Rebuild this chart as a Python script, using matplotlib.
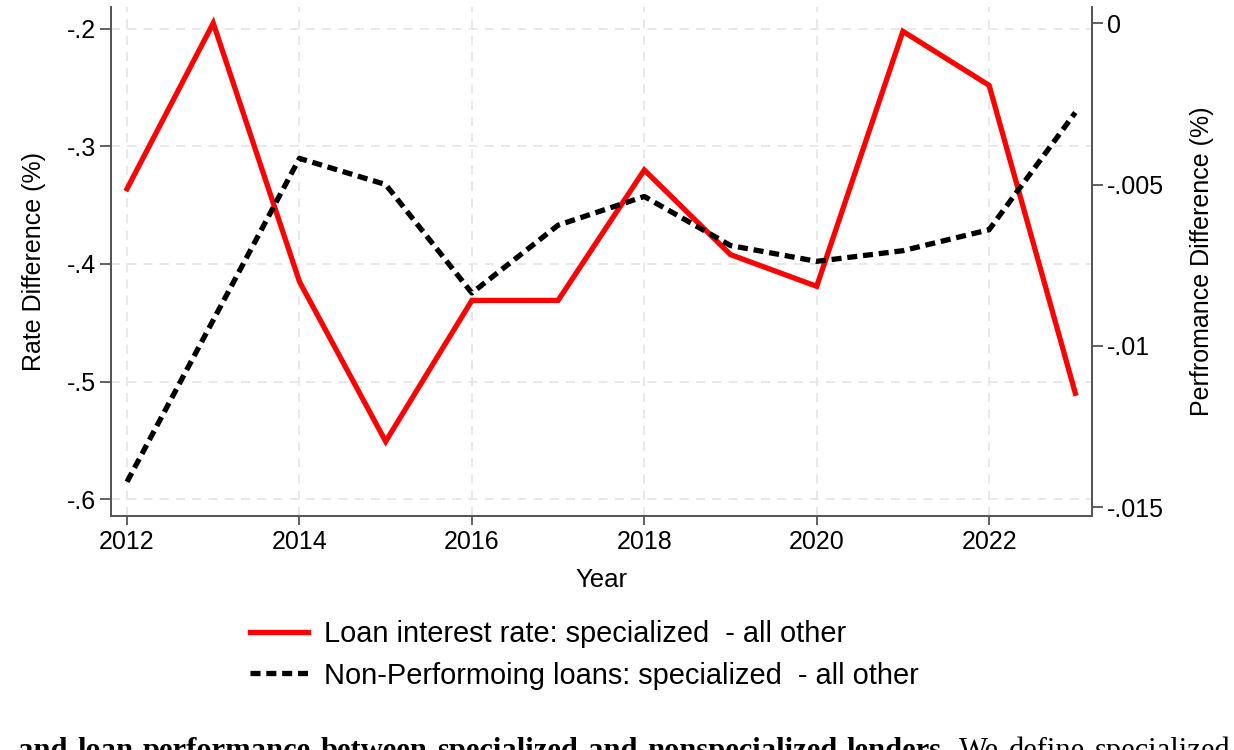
import matplotlib
matplotlib.use("Agg")
import matplotlib.pyplot as plt
from matplotlib import font_manager

# values
years = [2012, 2013, 2014, 2015, 2016, 2017, 2018, 2019, 2020, 2021, 2022, 2023]
rate_diff = [-0.336, -0.195, -0.415, -0.551, -0.431, -0.431, -0.320, -0.392, -0.419, -0.202, -0.248, -0.510]
npl_diff = [-0.01421, -0.0092, -0.00419, -0.00500, -0.00836, -0.00626, -0.00537,
            -0.00689, -0.00738, -0.00705, -0.00640, -0.00277]

x_ticks = [2012, 2014, 2016, 2018, 2020, 2022]
left_ticks = [-0.6, -0.5, -0.4, -0.3, -0.2]
left_labels = ["-.6", "-.5", "-.4", "-.3", "-.2"]
right_ticks = [-0.015, -0.01, -0.005, 0]
right_labels = ["-.015", "-.01", "-.005", "0"]

caption_bold = "and loan performance between specialized and nonspecialized lenders."
caption_rest = "We define specialized"

names = {f.name for f in font_manager.fontManager.ttflist}
sans = "Liberation Sans" if "Liberation Sans" in names else "DejaVu Sans"
serif = "Liberation Serif" if "Liberation Serif" in names else "DejaVu Serif"
plt.rcParams["font.family"] = [sans, "DejaVu Sans"]

W, H = 1234, 750
fig = plt.figure(figsize=(W / 100, H / 100), dpi=100)
ax = fig.add_axes([111 / W, 1 - 515.7 / H, (1091.7 - 111) / W, (515.7 - 7) / H])
ax2 = ax.twinx()

spine_col = "#555555"
grid_col = "#e6e6e6"
fs = 18

ax.set_xlim(2011.814, 2023.19)
ax.set_ylim(-0.6142, -0.1813)
ax2.set_ylim(-0.01526, 0.00050)

ax.set_xticks(x_ticks)
ax.set_yticks(left_ticks)
ax.set_yticklabels(left_labels)
ax2.set_yticks(right_ticks)
ax2.set_yticklabels(right_labels)

ax.grid(True, color=grid_col, linestyle=(0, (5, 4)), linewidth=1.3)
ax.set_axisbelow(True)

for a in (ax, ax2):
    a.spines["top"].set_visible(False)
    for s in ("left", "right", "bottom"):
        a.spines[s].set_color(spine_col)
        a.spines[s].set_linewidth(1.3)
    a.tick_params(colors=spine_col, labelcolor="black", width=1.3, length=8, labelsize=fs, pad=3)

ax.tick_params(axis="x", length=6.5, pad=4)

l1, = ax.plot(years, rate_diff, color="#ff0000", linewidth=3.8, solid_joinstyle="miter",
              label="Loan interest rate: specialized  - all other", zorder=3)
l2, = ax2.plot(years, npl_diff, color="black", linewidth=3.8, linestyle=(0, (1.9, 1.1)),
               label="Non-Performoing loans: specialized  - all other", zorder=3)

ax.set_ylabel("Rate Difference (%)", fontsize=fs, labelpad=15)
ax2.set_ylabel("Perfromance Difference (%)", fontsize=fs, labelpad=19)
ax.set_xlabel("Year", fontsize=18.5, labelpad=10)

fig.legend(handles=[l1, l2], loc="center left", bbox_to_anchor=(250 / W, 1 - 655 / H),
           frameon=False, borderpad=0, borderaxespad=0, handlelength=2.0, handletextpad=0.55,
           labelspacing=0.45, prop={"size": 20.9})

# caption line from the page below the figure, justified and cut off at the bottom
renderer = fig.canvas.get_renderer()
words = [(w, "bold") for w in caption_bold.split()] + [(w, "normal") for w in caption_rest.split()]
texts = []
total = 0
for w, weight in words:
    t = fig.text(0, 1 - 759 / H, w, family=serif, weight=weight, fontsize=22, va="baseline", ha="left")
    total += t.get_window_extent(renderer).width
    texts.append(t)
x0, x1 = 18, 1230
gap = (x1 - x0 - total) / (len(texts) - 1)
x = x0
for t in texts:
    t.set_x(x / W)
    x += t.get_window_extent(renderer).width + gap

fig.savefig("out.png", dpi=100)
